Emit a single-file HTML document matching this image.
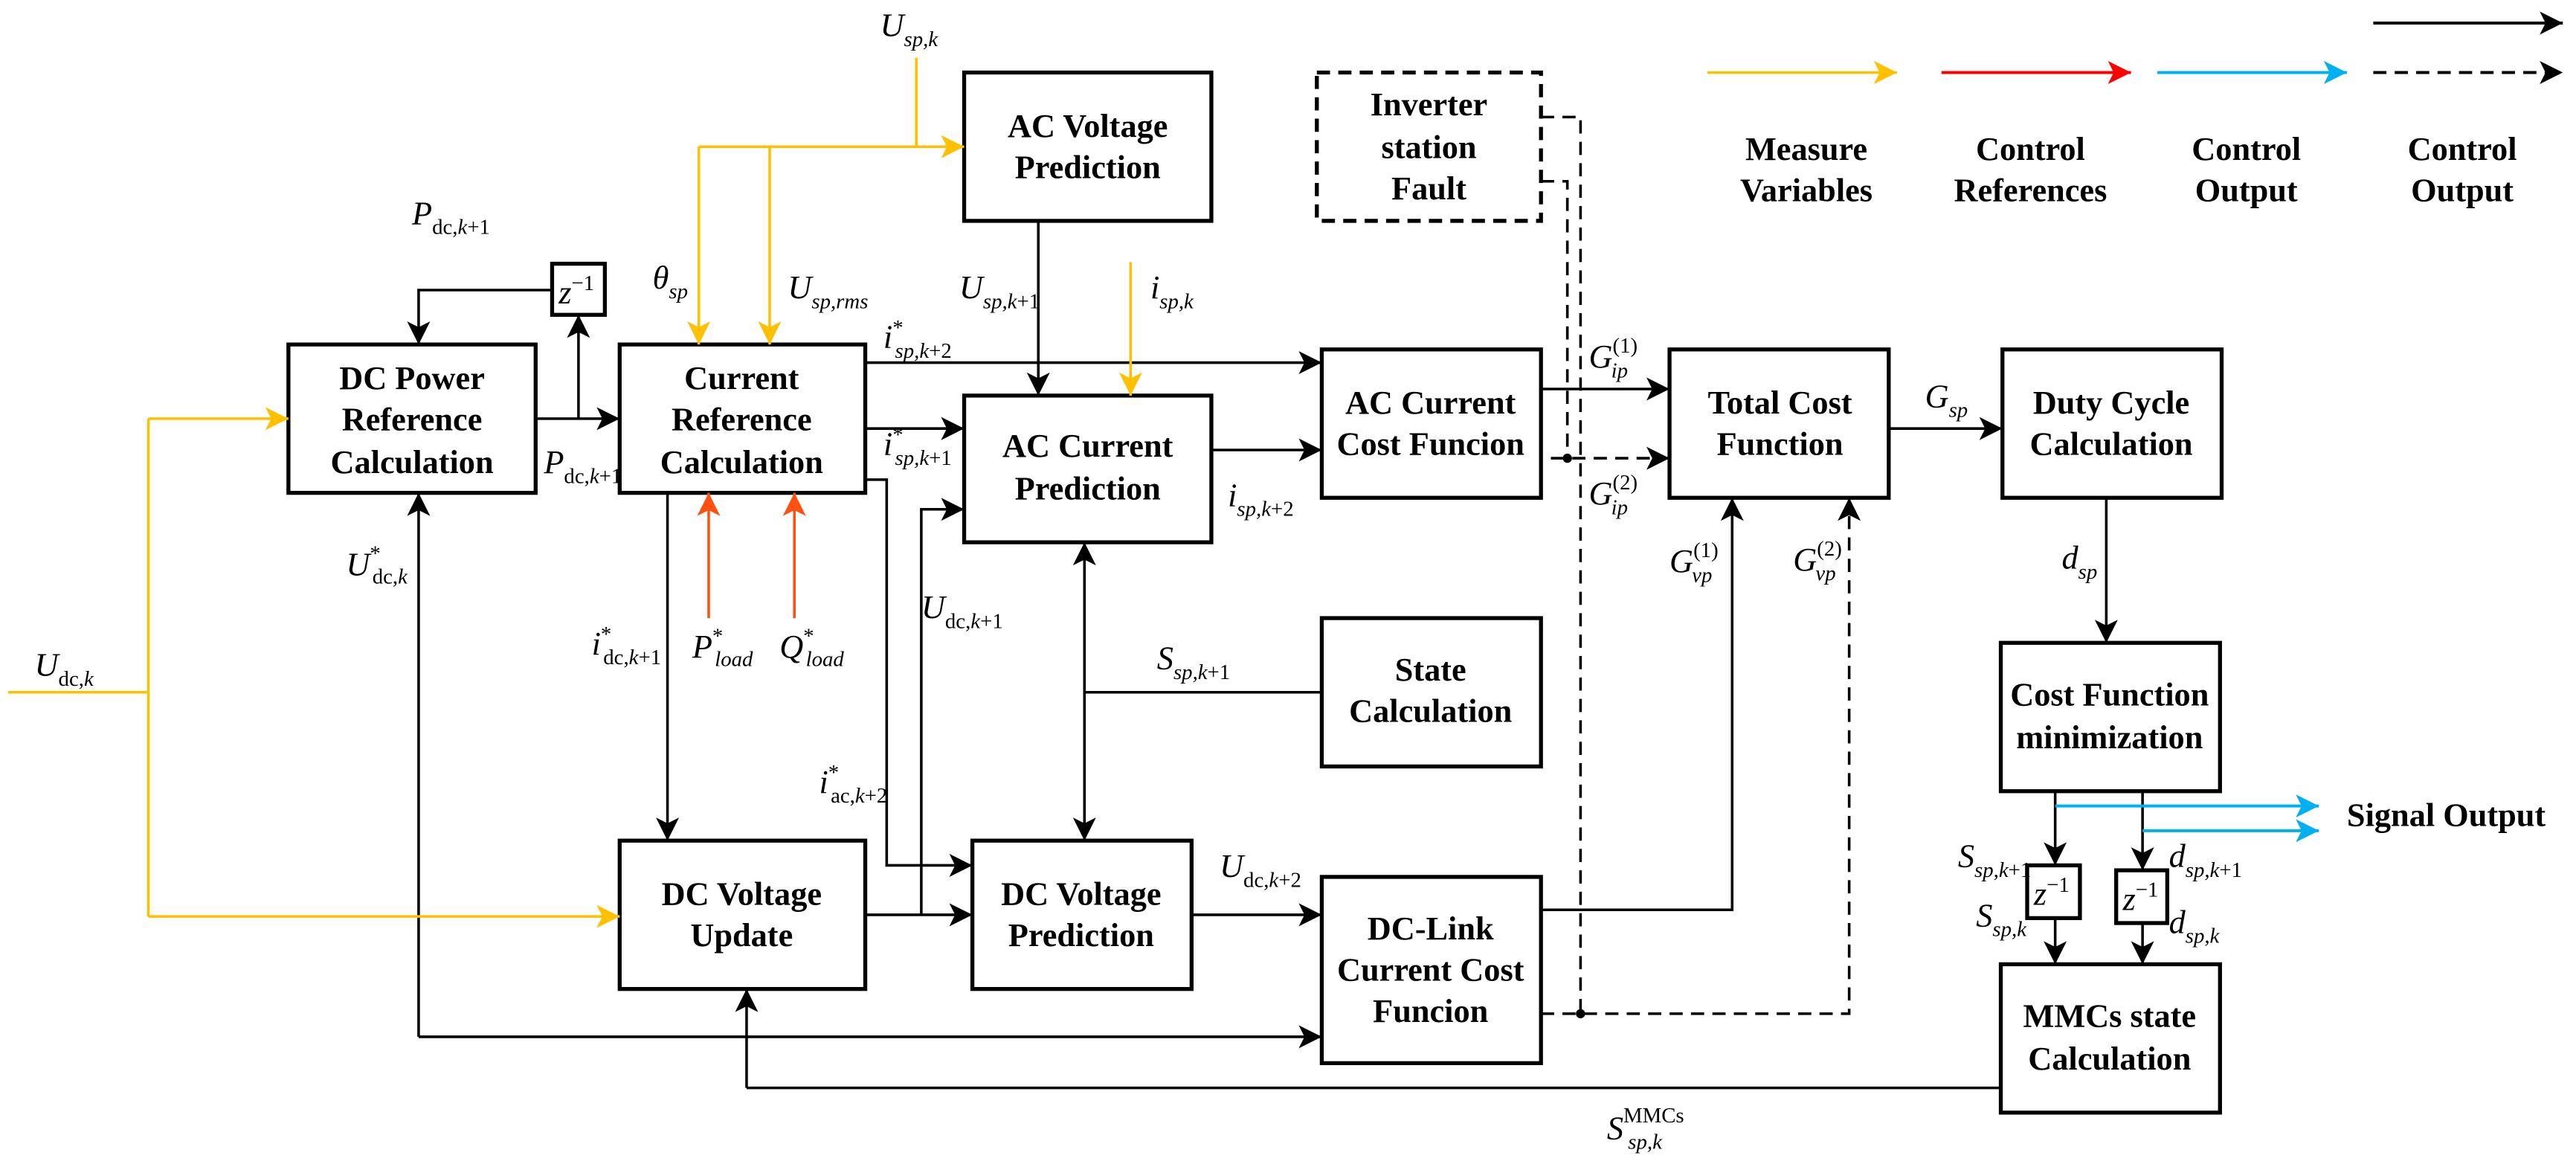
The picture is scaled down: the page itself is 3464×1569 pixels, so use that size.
<!DOCTYPE html>
<html><head><meta charset="utf-8"><style>
html,body{margin:0;padding:0;background:#fff;}
svg{display:block;}
.b{font-family:"Liberation Serif","Times New Roman","DejaVu Serif",serif;font-weight:700;font-size:20px;text-anchor:middle;fill:#000;}
.m{font-family:"Liberation Serif","Times New Roman","DejaVu Serif",serif;font-style:italic;font-size:20px;fill:#000;}
.s{font-size:13px;}
.n{font-style:normal;}
</style></head><body>
<svg width="3464" height="1569" viewBox="0 0 1563 708" preserveAspectRatio="none" xmlns="http://www.w3.org/2000/svg">
<defs>
<marker id="ak" markerUnits="userSpaceOnUse" markerWidth="16" markerHeight="16" refX="14" refY="7" orient="auto-start-reverse"><path d="M0,0 L14,7 L0,14 L3.5,7z" fill="#000"/></marker>
<marker id="ay" markerUnits="userSpaceOnUse" markerWidth="16" markerHeight="16" refX="14" refY="7" orient="auto"><path d="M0,0 L14,7 L0,14 L3.5,7z" fill="#FFC000"/></marker>
<marker id="ao" markerUnits="userSpaceOnUse" markerWidth="16" markerHeight="16" refX="14" refY="7" orient="auto"><path d="M0,0 L14,7 L0,14 L3.5,7z" fill="#FF5010"/></marker>
<marker id="ar" markerUnits="userSpaceOnUse" markerWidth="16" markerHeight="16" refX="14" refY="7" orient="auto"><path d="M0,0 L14,7 L0,14 L3.5,7z" fill="#FF0000"/></marker>
<marker id="ab" markerUnits="userSpaceOnUse" markerWidth="16" markerHeight="16" refX="14" refY="7" orient="auto"><path d="M0,0 L14,7 L0,14 L3.5,7z" fill="#00B0F0"/></marker>
</defs>

<g fill="none" stroke="#000" stroke-width="2.4">
<rect x="175" y="209" width="150" height="90"/>
<rect x="376" y="209" width="149" height="90"/>
<rect x="335" y="160" width="32" height="31"/>
<rect x="585" y="44" width="150" height="90"/>
<rect x="585" y="240" width="150" height="89"/>
<rect x="799" y="44" width="136" height="90" stroke-dasharray="8,5"/>
<rect x="802" y="212" width="133" height="90"/>
<rect x="1013" y="212" width="133" height="90"/>
<rect x="1215" y="212" width="133" height="90"/>
<rect x="802" y="375" width="133" height="90"/>
<rect x="376" y="510" width="149" height="90"/>
<rect x="590" y="510" width="133" height="90"/>
<rect x="802" y="532" width="133" height="113"/>
<rect x="1214" y="390" width="133" height="90"/>
<rect x="1214" y="585" width="133" height="90"/>
<rect x="1230" y="525" width="32" height="32"/>
<rect x="1284" y="528" width="31" height="32"/>
</g>

<g fill="none" stroke="#000" stroke-width="1.6">
<path d="M325,254 H376" marker-end="url(#ak)"/>
<path d="M351,254 V191" marker-end="url(#ak)"/>
<path d="M335,176 H254 V209" marker-end="url(#ak)"/>
<path d="M254,629 V299" marker-end="url(#ak)"/>
<path d="M254,629 H802" marker-end="url(#ak)"/>
<path d="M525,220 H802" marker-end="url(#ak)"/>
<path d="M525,260 H585" marker-end="url(#ak)"/>
<path d="M525,291 H538 V525 H590" marker-end="url(#ak)"/>
<path d="M405,299 V510" marker-end="url(#ak)"/>
<path d="M525,555 H590" marker-end="url(#ak)"/>
<path d="M559,555 V309 H585" marker-end="url(#ak)"/>
<path d="M453,660 V600" marker-end="url(#ak)"/>
<path d="M453,660 H1214"/>
<path d="M630,134 V240" marker-end="url(#ak)"/>
<path d="M735,273 H802" marker-end="url(#ak)"/>
<path d="M658,329 V510" marker-start="url(#ak)" marker-end="url(#ak)"/>
<path d="M658,420 H802"/>
<path d="M723,555 H802" marker-end="url(#ak)"/>
<path d="M935,236 H1013" marker-end="url(#ak)"/>
<path d="M935,552 H1051 V302" marker-end="url(#ak)"/>
<path d="M1146,260 H1215" marker-end="url(#ak)"/>
<path d="M1278,302 V390" marker-end="url(#ak)"/>
<path d="M1247,480 V525" marker-end="url(#ak)"/>
<path d="M1300,480 V528" marker-end="url(#ak)"/>
<path d="M1247,557 V585" marker-end="url(#ak)"/>
<path d="M1300,560 V585" marker-end="url(#ak)"/>
</g>
<g fill="none" stroke="#000" stroke-width="1.6" stroke-dasharray="8,5">
<path d="M941,278 H1013" marker-end="url(#ak)"/>
<path d="M935,71 H959 V615"/>
<path d="M935,110 H951 V278"/>
<path d="M935,615 H1122 V302" marker-end="url(#ak)"/>
</g>
<circle cx="951" cy="278" r="2.8" fill="#000"/>
<circle cx="959" cy="615" r="2.8" fill="#000"/>

<g fill="none" stroke="#FFC000" stroke-width="1.6">
<path d="M5,420 H90"/>
<path d="M90,254 V556"/>
<path d="M90,254 H175" marker-end="url(#ay)"/>
<path d="M90,556 H376" marker-end="url(#ay)"/>
<path d="M556,35 V89"/>
<path d="M424,89 H585" marker-end="url(#ay)"/>
<path d="M424,89 V209" marker-end="url(#ay)"/>
<path d="M467,89 V209" marker-end="url(#ay)"/>
<path d="M686,159 V240" marker-end="url(#ay)"/>
<path d="M1036,44 H1151" marker-end="url(#ay)"/>
</g>
<g fill="none" stroke="#FF5010" stroke-width="1.6">
<path d="M430,375 V299" marker-end="url(#ao)"/>
<path d="M482,375 V299" marker-end="url(#ao)"/>
</g>
<path d="M1178,44 H1293" stroke="#FF0000" stroke-width="1.8" marker-end="url(#ar)"/>
<g fill="none" stroke="#00B0F0" stroke-width="1.8">
<path d="M1309,44 H1424" marker-end="url(#ab)"/>
<path d="M1247,489 H1407" marker-end="url(#ab)"/>
<path d="M1300,504 H1407" marker-end="url(#ab)"/>
</g>
<path d="M1440,14 H1555" stroke="#000" stroke-width="1.8" marker-end="url(#ak)"/>
<path d="M1440,44 H1555" stroke="#000" stroke-width="1.8" stroke-dasharray="8,5" marker-end="url(#ak)"/>

<text class="b" x="250" y="236">DC Power</text><text class="b" x="250" y="261">Reference</text><text class="b" x="250" y="287">Calculation</text>
<text class="b" x="450" y="236">Current</text><text class="b" x="450" y="261">Reference</text><text class="b" x="450" y="287">Calculation</text>
<text class="b" x="660" y="83">AC Voltage</text><text class="b" x="660" y="108">Prediction</text>
<text class="b" x="867" y="70">Inverter</text><text class="b" x="867" y="96">station</text><text class="b" x="867" y="121">Fault</text>
<text class="b" x="660" y="277">AC Current</text><text class="b" x="660" y="303">Prediction</text>
<text class="b" x="868" y="251">AC Current</text><text class="b" x="868" y="276">Cost Funcion</text>
<text class="b" x="1080" y="251">Total Cost</text><text class="b" x="1080" y="276">Function</text>
<text class="b" x="1281" y="251">Duty Cycle</text><text class="b" x="1281" y="276">Calculation</text>
<text class="b" x="868" y="413">State</text><text class="b" x="868" y="438">Calculation</text>
<text class="b" x="450" y="549">DC Voltage</text><text class="b" x="450" y="574">Update</text>
<text class="b" x="656" y="549">DC Voltage</text><text class="b" x="656" y="574">Prediction</text>
<text class="b" x="868" y="570">DC-Link</text><text class="b" x="868" y="595">Current Cost</text><text class="b" x="868" y="620">Funcion</text>
<text class="b" x="1280" y="428">Cost Function</text><text class="b" x="1280" y="454">minimization</text>
<text class="b" x="1280" y="623">MMCs state</text><text class="b" x="1280" y="649">Calculation</text>
<text class="b" x="1424" y="501" style="text-anchor:start">Signal Output</text>
<text class="b" x="1096" y="97">Measure</text><text class="b" x="1096" y="122">Variables</text>
<text class="b" x="1232" y="97">Control</text><text class="b" x="1232" y="122">References</text>
<text class="b" x="1363" y="97">Control</text><text class="b" x="1363" y="122">Output</text>
<text class="b" x="1494" y="97">Control</text><text class="b" x="1494" y="122">Output</text>

<text class="m" x="339" y="184">z<tspan class="s n" dy="-8">−1</tspan></text>
<text class="m" x="1234" y="549">z<tspan class="s n" dy="-8">−1</tspan></text>
<text class="m" x="1288" y="552">z<tspan class="s n" dy="-8">−1</tspan></text>

<text class="m" x="534" y="22">U<tspan class="s" dy="6">sp,k</tspan></text>
<text class="m" x="250" y="136">P<tspan class="s n" dy="6">dc,</tspan><tspan class="s">k</tspan><tspan class="s n">+1</tspan></text>
<text class="m" x="396" y="175">θ<tspan class="s" dy="6">sp</tspan></text>
<text class="m" x="478" y="181">U<tspan class="s" dy="6">sp,rms</tspan></text>
<text class="m" x="536" y="211">i<tspan class="s n" dy="-8">*</tspan><tspan class="s" dx="-5" dy="14">sp,k</tspan><tspan class="s n">+2</tspan></text>
<text class="m" x="536" y="276">i<tspan class="s n" dy="-8">*</tspan><tspan class="s" dx="-5" dy="14">sp,k</tspan><tspan class="s n">+1</tspan></text>
<text class="m" x="330" y="287">P<tspan class="s n" dy="6">dc,</tspan><tspan class="s">k</tspan><tspan class="s n">+1</tspan></text>
<text class="m" x="582" y="181">U<tspan class="s" dy="6">sp,k</tspan><tspan class="s n">+1</tspan></text>
<text class="m" x="698" y="181">i<tspan class="s" dy="6">sp,k</tspan></text>
<text class="m" x="745" y="307">i<tspan class="s" dy="6">sp,k</tspan><tspan class="s n">+2</tspan></text>
<text class="m" x="210" y="349">U<tspan class="s n" dy="-9">*</tspan><tspan class="s n" dx="-5" dy="14">dc,</tspan><tspan class="s">k</tspan></text>
<text class="m" x="21" y="410">U<tspan class="s n" dy="6">dc,</tspan><tspan class="s">k</tspan></text>
<text class="m" x="359" y="397">i<tspan class="s n" dy="-8">*</tspan><tspan class="s n" dx="-5" dy="14">dc,</tspan><tspan class="s">k</tspan><tspan class="s n">+1</tspan></text>
<text class="m" x="420" y="399">P<tspan class="s n" dy="-9">*</tspan><tspan class="s" dx="-5" dy="14">load</tspan></text>
<text class="m" x="473" y="399">Q<tspan class="s n" dy="-9">*</tspan><tspan class="s" dx="-5" dy="14">load</tspan></text>
<text class="m" x="497" y="481">i<tspan class="s n" dy="-8">*</tspan><tspan class="s n" dx="-5" dy="14">ac,</tspan><tspan class="s">k</tspan><tspan class="s n">+2</tspan></text>
<text class="m" x="559" y="375">U<tspan class="s n" dy="6">dc,</tspan><tspan class="s">k</tspan><tspan class="s n">+1</tspan></text>
<text class="m" x="702" y="406">S<tspan class="s" dy="6">sp,k</tspan><tspan class="s n">+1</tspan></text>
<text class="m" x="740" y="532">U<tspan class="s n" dy="6">dc,</tspan><tspan class="s">k</tspan><tspan class="s n">+2</tspan></text>
<text class="m" x="964" y="223">G<tspan class="s n" dy="-9">(1)</tspan><tspan class="s" dx="-16" dy="15">ip</tspan></text>
<text class="m" x="964" y="306">G<tspan class="s n" dy="-9">(2)</tspan><tspan class="s" dx="-16" dy="15">ip</tspan></text>
<text class="m" x="1013" y="347">G<tspan class="s n" dy="-9">(1)</tspan><tspan class="s" dx="-16" dy="15">vp</tspan></text>
<text class="m" x="1088" y="346">G<tspan class="s n" dy="-9">(2)</tspan><tspan class="s" dx="-16" dy="15">vp</tspan></text>
<text class="m" x="1168" y="247">G<tspan class="s" dy="6">sp</tspan></text>
<text class="m" x="1251" y="345">d<tspan class="s" dy="6">sp</tspan></text>
<text class="m" x="1188" y="526">S<tspan class="s" dy="6">sp,k</tspan><tspan class="s n">+1</tspan></text>
<text class="m" x="1199" y="562">S<tspan class="s" dy="6">sp,k</tspan></text>
<text class="m" x="1316" y="526">d<tspan class="s" dy="6">sp,k</tspan><tspan class="s n">+1</tspan></text>
<text class="m" x="1316" y="566">d<tspan class="s" dy="6">sp,k</tspan></text>
<text class="m" x="975" y="691">S<tspan class="s n" dy="-10">MMCs</tspan><tspan class="s" dx="-34" dy="16">sp,k</tspan></text>
</svg>
</body></html>
